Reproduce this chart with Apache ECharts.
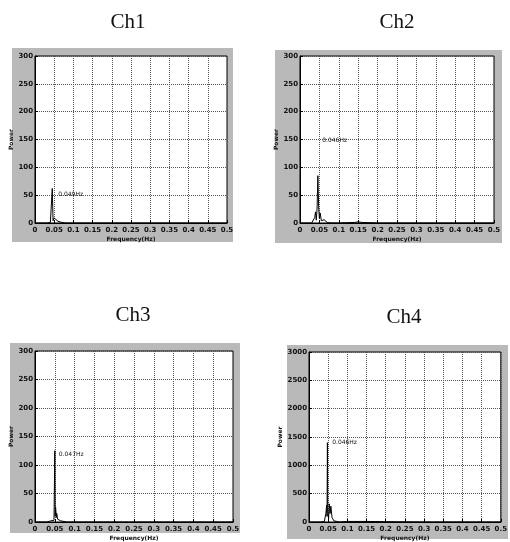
<!DOCTYPE html>
<html><head><meta charset="utf-8">
<script src="https://cdn.jsdelivr.net/npm/echarts@6/dist/echarts.min.js"></script>
<style>html,body{margin:0;padding:0;background:#fff}#c{width:510px;height:542px}</style>
</head><body><div id="c"></div>
<script>
// Titles
const channels = ['Ch1', 'Ch2', 'Ch3', 'Ch4'];
// Frequencies (Hz) and power values per channel
const freq1 = [0, 0.01, 0.02, 0.03, 0.04, 0.043, 0.045, 0.047, 0.05, 0.055, 0.06, 0.065, 0.07, 0.08, 0.1, 0.15, 0.2, 0.3, 0.4, 0.5];
const pow1  = [0, 0, 0, 0, 1, 3, 62, 4, 9, 7, 3, 2, 1, 0, 0, 0, 0, 0, 0, 0];
const freq2 = [0, 0.02, 0.03, 0.035, 0.038, 0.04, 0.042, 0.044, 0.046, 0.048, 0.05, 0.052, 0.055, 0.058, 0.062, 0.066, 0.07, 0.08, 0.1, 0.14, 0.15, 0.16, 0.2, 0.3, 0.4, 0.5];
const pow2  = [0, 0, 0, 1, 10, 20, 5, 25, 85, 30, 8, 18, 4, 3, 6, 4, 1, 0, 0, 1, 2, 1, 0, 0, 0, 0];
const freq3 = [0, 0.02, 0.03, 0.04, 0.042, 0.045, 0.048, 0.05, 0.051, 0.052, 0.054, 0.055, 0.057, 0.06, 0.065, 0.07, 0.08, 0.1, 0.2, 0.3, 0.4, 0.5];
const pow3  = [0, 0, 0, 2, 5, 1, 3, 125, 10, 26, 8, 15, 5, 3, 2, 1, 0, 0, 0, 0, 0, 0];
const freq4 = [0, 0.02, 0.03, 0.04, 0.044, 0.046, 0.047, 0.048, 0.049, 0.051, 0.053, 0.055, 0.057, 0.06, 0.065, 0.07, 0.08, 0.1, 0.15, 0.2, 0.3, 0.4, 0.5];
const pow4  = [0, 0, 0, 10, 150, 300, 100, 1400, 200, 50, 320, 150, 280, 80, 20, 5, 0, 10, 10, 5, 0, 0, 0];
// Axis ranges
const xMax = 0.5, xStep = 0.05;
const yMax = [300, 300, 300, 3000];
const yStep = [50, 50, 50, 500];
// Peak annotations: label text and anchor (frequency, power)
const annoText = ['0.049Hz', '0.046Hz', '0.047Hz', '0.046Hz'];
const annoX = [0.05, 0.047, 0.05, 0.05];
const annoY = [52, 148, 118, 1400];

const freqs = [freq1, freq2, freq3, freq4];
const pows = [pow1, pow2, pow3, pow4];

const grids = [
  {left: 35, top: 56, width: 192, height: 167},
  {left: 300, top: 56, width: 194, height: 167},
  {left: 35, top: 351, width: 198, height: 171},
  {left: 309, top: 352, width: 197, height: 171}
];
const boxes = [
  [12, 48, 221, 194],
  [275, 50, 227, 193],
  [10, 343, 230, 190],
  [287, 345, 221, 194]
];
const titlePos = [[123, 7], [392, 7], [128, 300], [399, 302]];

const labelFont = {fontSize: 7, color: '#111', fontFamily: 'DejaVu Sans', fontWeight: 'bold'};

const option = {
  animation: false,
  backgroundColor: '#fff',
  title: channels.map((t, i) => ({
    text: t, left: titlePos[i][0], top: titlePos[i][1], textAlign: 'center',
    textStyle: {fontFamily: 'Liberation Serif', fontWeight: 'normal', fontSize: 21, color: '#111'}
  })),
  graphic: boxes.map(b => ({
    type: 'rect', z: -10, silent: true,
    shape: {x: b[0], y: b[1], width: b[2], height: b[3]},
    style: {fill: '#b9b9b9'}
  })),
  grid: grids.map(g => Object.assign({show: true, backgroundColor: '#fff', borderColor: '#000', borderWidth: 1}, g)),
  xAxis: grids.map((g, i) => ({
    type: 'value', gridIndex: i, min: 0, max: xMax, interval: xStep,
    name: 'Frequency(Hz)', nameLocation: 'middle', nameGap: 13,
    nameTextStyle: {fontSize: 6, color: '#111', fontFamily: 'DejaVu Sans', fontWeight: 'bold'},
    axisLine: {lineStyle: {color: '#000'}},
    axisTick: {inside: true, length: 3, lineStyle: {color: '#000'}},
    axisLabel: Object.assign({margin: 4, formatter: v => String(+v.toFixed(2))}, labelFont),
    splitLine: {show: true, lineStyle: {type: 'dotted', color: '#555', width: 1}}
  })),
  yAxis: grids.map((g, i) => ({
    type: 'value', gridIndex: i, min: 0, max: yMax[i], interval: yStep[i],
    name: 'Power', nameLocation: 'middle', nameGap: i === 3 ? 20 : 17,
    nameTextStyle: {fontSize: 6, color: '#111', fontFamily: 'DejaVu Sans', fontWeight: 'bold'},
    axisLine: {lineStyle: {color: '#000'}},
    axisTick: {inside: true, length: 3, lineStyle: {color: '#000'}},
    axisLabel: Object.assign({margin: 2, formatter: v => String(v)}, labelFont),
    splitLine: {show: true, lineStyle: {type: 'dotted', color: '#555', width: 1}}
  })),
  series: freqs.map((f, i) => ({
    type: 'line', xAxisIndex: i, yAxisIndex: i, symbol: 'none',
    lineStyle: {color: '#000', width: 1},
    data: f.map((x, k) => [x, pows[i][k]]),
    markPoint: {
      symbol: 'circle', symbolSize: 0,
      data: [{coord: [annoX[i], annoY[i]], value: annoText[i]}],
      label: {show: true, position: 'right', distance: 4, formatter: annoText[i],
        fontSize: 6, color: '#111', fontFamily: 'DejaVu Sans'}
    }
  }))
};
const chart = echarts.init(document.getElementById('c'), null, {renderer: 'canvas'});
chart.setOption(option);
</script></body></html>
